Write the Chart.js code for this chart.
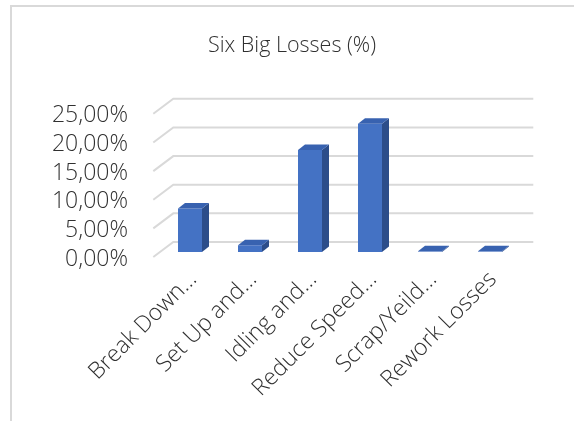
<!DOCTYPE html>
<html><head><meta charset="utf-8">
<script src="https://cdn.jsdelivr.net/npm/chart.js@4.4.1/dist/chart.umd.min.js"></script>
<style>
html,body{margin:0;padding:0;background:#fff;}
#wrap{position:relative;width:574px;height:421px;overflow:hidden;}
#frame{position:absolute;left:10px;top:5px;right:-5px;bottom:-5px;border-left:2px solid #d9d9d9;border-top:2px solid #d9d9d9;}
canvas{display:block;position:absolute;left:0;top:0;}
</style></head><body>
<div id="wrap"><div id="frame"></div><canvas id="c" width="574" height="421"></canvas></div>
<script>
const categories = ['Break Down…', 'Set Up and…', 'Idling and…', 'Reduce Speed…', 'Scrap/Yeild…', 'Rework Losses'];
const lossValues = [7.6, 1.2, 17.8, 22.4, 0.1, 0.1];
const yTickValues = [0, 5, 10, 15, 20, 25];
const chartTitle = 'Six Big Losses (%)';

const FONT = "'Open Sans', 'Liberation Sans', sans-serif";
const TXT = '#303030';
const BACK = {dx: 13.3, dy: -10};
const FRONT = {dx: -6.7, dy: 5};
const BAR_DEPTH = {dx: 7, dy: -5.5};

const threeD = {
  id: 'threeD',
  beforeDatasetsDraw(chart) {
    const ctx = chart.ctx, y = chart.scales.y, a = chart.chartArea;
    ctx.save();
    ctx.strokeStyle = '#d9d9d9';
    ctx.lineWidth = 2;
    yTickValues.forEach(v => {
      const py = y.getPixelForValue(v);
      ctx.beginPath();
      ctx.moveTo(a.left + FRONT.dx, py + FRONT.dy);
      ctx.lineTo(a.left + BACK.dx, py + BACK.dy);
      ctx.lineTo(a.right + BACK.dx, py + BACK.dy);
      ctx.stroke();
    });
    ctx.restore();
  },
  afterDatasetsDraw(chart) {
    const ctx = chart.ctx;
    const meta = chart.getDatasetMeta(0);
    ctx.save();
    meta.data.forEach(bar => {
      const p = bar.getProps(['x', 'y', 'base', 'width'], true);
      const l = p.x - p.width / 2, r = p.x + p.width / 2;
      const top = Math.min(p.y, p.base - 0.8), base = p.base;
      ctx.fillStyle = '#2c4d8a';
      ctx.beginPath();
      ctx.moveTo(r, top); ctx.lineTo(r + BAR_DEPTH.dx, top + BAR_DEPTH.dy);
      ctx.lineTo(r + BAR_DEPTH.dx, base + BAR_DEPTH.dy); ctx.lineTo(r, base);
      ctx.closePath(); ctx.fill();
      ctx.fillStyle = '#3862b0';
      ctx.beginPath();
      ctx.moveTo(l, top); ctx.lineTo(l + BAR_DEPTH.dx, top + BAR_DEPTH.dy);
      ctx.lineTo(r + BAR_DEPTH.dx, top + BAR_DEPTH.dy); ctx.lineTo(r, top);
      ctx.closePath(); ctx.fill();
    });
    ctx.restore();
  }
};

new Chart(document.getElementById('c'), {
  type: 'bar',
  data: {
    labels: categories,
    datasets: [{
      label: chartTitle,
      data: lossValues,
      backgroundColor: '#4472c4',
      borderWidth: 0,
      barPercentage: 0.8,
      categoryPercentage: 0.5,
      yAxisID: 'y'
    }]
  },
  options: {
    responsive: false,
    animation: false,
    layout: {padding: {left: 10, right: 0, top: 0, bottom: 0}},
    plugins: {
      legend: {display: false},
      tooltip: {enabled: false},
      title: {
        display: true,
        text: chartTitle,
        color: TXT,
        font: {family: FONT, size: 21.5, weight: '300'},
        padding: {top: 33, bottom: 50}
      }
    },
    scales: {
      x: {
        grid: {display: false, drawTicks: false},
        border: {display: false},
        ticks: {
          color: TXT,
          font: {family: FONT, size: 23, weight: '300'},
          minRotation: 45, maxRotation: 45, autoSkip: false,
          padding: 14,
          labelOffset: 3
        },
        afterFit(s) { s.height = 169; }
      },
      y: {
        min: 0, max: 25,
        grid: {display: false, drawTicks: false},
        border: {display: false},
        ticks: {
          stepSize: 5,
          autoSkip: false,
          color: TXT,
          font: {family: FONT, size: 23, weight: '300'},
          padding: 32,
          labelOffset: 7,
          callback: v => v.toFixed(2).replace('.', ',') + '%'
        },
        afterFit(s) { s.width = 150; }
      },
      yRight: {
        position: 'right',
        min: 0, max: 25,
        grid: {display: false, drawTicks: false},
        border: {display: false},
        ticks: {display: false},
        afterFit(s) { s.width = 54; }
      }
    }
  },
  plugins: [threeD]
});
</script>
</body></html>
